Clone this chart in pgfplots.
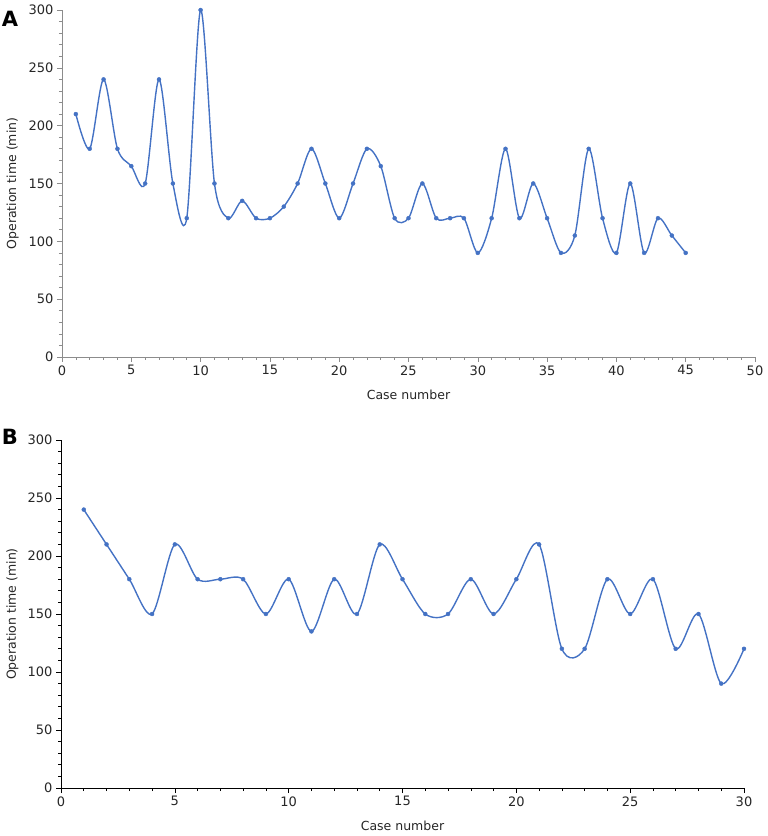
\documentclass[border=0pt]{standalone}
\usepackage{pgfplots}
\pgfplotsset{compat=1.18}
\usepackage{fontspec}
\setmainfont{DejaVu Sans}
\definecolor{lineblue}{HTML}{4472C4}
\definecolor{axgray}{HTML}{8C8C8C}
\definecolor{txt}{HTML}{262626}

\pgfplotstableread{
x y
1 210
2 180
3 240
4 180
5 165
6 150
7 240
8 150
9 120
10 300
11 150
12 120
13 135
14 120
15 120
16 130
17 150
18 180
19 150
20 120
21 150
22 180
23 165
24 120
25 120
26 150
27 120
28 120
29 120
30 90
31 120
32 180
33 120
34 150
35 120
36 90
37 105
38 180
39 120
40 90
41 150
42 90
43 120
44 105
45 90
}\dataA

\pgfplotstableread{
x y
1 240
2 210
3 180
4 150
5 210
6 180
7 180
8 180
9 150
10 180
11 135
12 180
13 150
14 210
15 180
16 150
17 150
18 180
19 150
20 180
21 210
22 120
23 120
24 180
25 150
26 180
27 120
28 150
29 90
30 120
}\dataB

\begin{document}
\begin{tikzpicture}
\useasboundingbox (0bp,0bp) rectangle (768bp,836bp);
\pgfplotsset{
  myaxis/.style={
    scale only axis,
    axis x line*=bottom,
    axis y line*=left,
    ymin=0, ymax=300,
    ytick={0,50,...,300},
    minor y tick num=4,
    minor x tick num=4,
    tick align=outside,
    major tick length=5bp,
    minor tick length=3bp,
    /pgf/number format/assume math mode=true,
    tick label style={font=\fontsize{13bp}{15bp}\selectfont, text=txt},
    xlabel={Case number},
    ylabel={Operation time (min)},
    every axis y label/.append style={at={(axis description cs:-0.071,0.5)}, anchor=center, font=\fontsize{12.5bp}{14bp}\selectfont, text=txt},
    every axis x label/.append style={at={(axis description cs:0.5,-0.109)}, anchor=center, font=\fontsize{12.5bp}{14bp}\selectfont, text=txt},
    clip=false,
  },
  myplot/.style={lineblue, line width=1.4bp, smooth, mark=*, mark size=2bp, mark options={fill=lineblue, draw=lineblue, line width=0.4bp}},
}
\begin{axis}[myaxis,
  at={(62bp,479bp)}, anchor=south west,
  width=693bp, height=347bp,
  xmin=0, xmax=50, xtick={0,5,...,50},
  axis line style={axgray, line width=0.8bp},
  every tick/.style={axgray, line width=0.6bp},
]
\addplot[myplot] table[x=x,y=y] {\dataA};
\end{axis}
\begin{axis}[myaxis,
  at={(61bp,48bp)}, anchor=south west,
  width=683bp, height=348bp,
  xmin=0, xmax=30, xtick={0,5,...,30},
  axis line style={black, line width=0.9bp},
  every tick/.style={black, line width=0.6bp},
]
\addplot[myplot] table[x=x,y=y] {\dataB};
\end{axis}
\node[font=\bfseries\fontsize{21bp}{24bp}\selectfont, text=black] at (10bp,817bp) {A};
\node[font=\bfseries\fontsize{21bp}{24bp}\selectfont, text=black] at (10bp,399bp) {B};
\end{tikzpicture}
\end{document}
